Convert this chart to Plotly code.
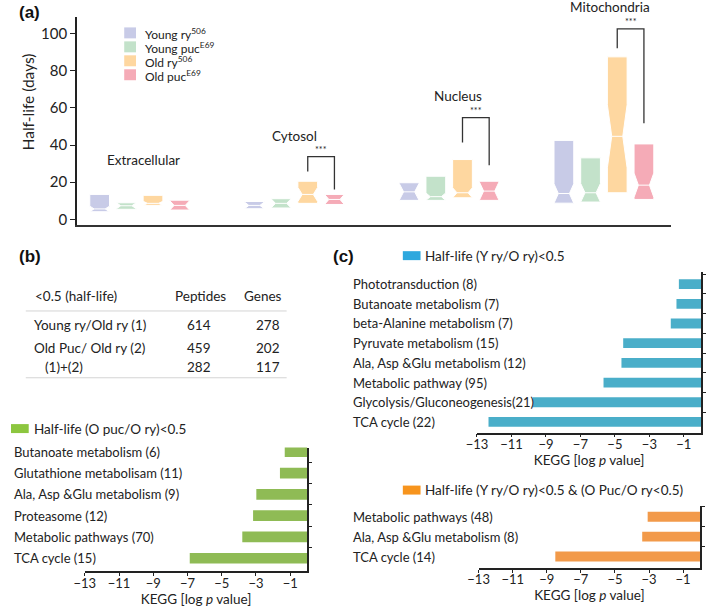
import plotly.graph_objects as go

W, H = 709, 607
FONT = "Lato"
TXT = "#222222"
AX = "#222222"

# ---------------- Panel (a) data ----------------
compartments = ["Extracellular", "Cytosol", "Nucleus", "Mitochondria"]
genotypes = ["Young ry<sup>506</sup>", "Young puc<sup>E69</sup>",
             "Old ry<sup>506</sup>", "Old puc<sup>E69</sup>"]
box_colors = ["#c8cbe7", "#c3e2ca", "#fed7a0", "#f5abb7"]

q1_young_ry = [4.1, 5.7, 10.2, 8.7]
med_young_ry = [5.6, 7.5, 14.8, 13.9]
q3_young_ry = [13.4, 9.6, 19.7, 42.5]
notch_young_ry = [1.5, 1.8, 4.5, 5.2]

q1_young_puc = [5.4, 6.1, 10.2, 9.3]
med_young_puc = [7.3, 8.6, 12.2, 14.3]
q3_young_puc = [8.9, 11.1, 23.2, 33.1]
notch_young_puc = [1.6, 2.4, 2.0, 5.0]

q1_old_ry = [7.5, 8.6, 11.6, 14.3]
med_old_ry = [8.6, 13.4, 14.3, 44.7]
q3_old_ry = [12.9, 20.5, 32.2, 87.5]
notch_old_ry = [1.1, 3.8, 2.7, 17.0]

q1_old_puc = [5.0, 8.0, 10.2, 10.7]
med_old_puc = [7.5, 10.7, 15.2, 18.4]
q3_old_puc = [10.3, 13.4, 20.5, 40.6]
notch_old_puc = [2.5, 2.7, 5.0, 6.5]

label_y = [32, 45, 66.6, 114]

# significance brackets (Old ry vs Old puc)
sig_groups = [1, 2, 3]
sig_top = [33.8, 54.8, 102.6]
sig_left_end = [25.7, 41.4, 92.2]
sig_right_end = [16.0, 29.1, 51.8]
sig_text = ["***", "***", "***"]

y_ticks_a = [0, 20, 40, 60, 80, 100]

# ---------------- Panel (b) table ----------------
table_header = ["<0.5 (half-life)", "Peptides", "Genes"]
table_rows = ["Young ry/Old ry (1)", "Old Puc/ Old ry (2)", "(1)+(2)"]
table_peptides = [614, 459, 282]
table_genes = [278, 202, 117]

# ---------------- KEGG bars ----------------
green_terms = ["Butanoate metabolism (6)", "Glutathione metabolisam (11)",
               "Ala, Asp &Glu metabolism (9)", "Proteasome (12)",
               "Metabolic pathways (70)", "TCA cycle (15)"]
green_logp = [-1.32, -1.6, -2.98, -3.17, -3.8, -6.87]

blue_terms = ["Phototransduction (8)", "Butanoate metabolism (7)",
              "beta-Alanine metabolism (7)", "Pyruvate metabolism (15)",
              "Ala, Asp &Glu metabolism (12)", "Metabolic pathway (95)",
              "Glycolysis/Gluconeogenesis(21)", "TCA cycle (22)"]
blue_logp = [-1.29, -1.43, -1.76, -4.52, -4.62, -5.66, -9.76, -12.33]

orange_terms = ["Metabolic pathways (48)", "Ala, Asp &Glu metabolism (8)",
                "TCA cycle (14)"]
orange_logp = [-3.08, -3.4, -8.5]

kegg_ticks = [-13, -11, -9, -7, -5, -3, -1]

green_title = "Half-life (O puc/O ry)<0.5"
blue_title = "Half-life (Y ry/O ry)<0.5"
orange_title = "Half-life (Y ry/O ry)<0.5 & (O Puc/O ry<0.5)"


def px(x):
    return x / W


def py(y):
    return 1 - y / H


def esc(s):
    return s.replace("&", "&amp;").replace("<", "&lt;").replace(">", "&gt;")


fig = go.Figure()

# ---- panel (a) boxes ----
GS = 5.8
series = [
    (q1_young_ry, med_young_ry, q3_young_ry, notch_young_ry),
    (q1_young_puc, med_young_puc, q3_young_puc, notch_young_puc),
    (q1_old_ry, med_old_ry, q3_old_ry, notch_old_ry),
    (q1_old_puc, med_old_puc, q3_old_puc, notch_old_puc),
]
for i, (q1, med, q3, ns) in enumerate(series):
    xs = [g * GS + i for g in range(len(compartments))]
    fig.add_trace(go.Box(
        x=xs, q1=q1, median=med, q3=q3, lowerfence=q1, upperfence=q3,
        notchspan=ns, notched=True, notchwidth=0.22, width=0.74,
        fillcolor=box_colors[i], line=dict(color="white", width=1),
        whiskerwidth=0, boxpoints=False, name=genotypes[i],
        showlegend=False, hoverinfo="skip", xaxis="x", yaxis="y"))

annotations = []
shapes = []

# compartment labels
label_dx = [4, 0, 9, 6]
for g, name in enumerate(compartments):
    if label_y[g] > 105:
        yp = py(220 - label_y[g] * 37.3 / 20)
        annotations.append(dict(x=g * GS + 1.5, y=yp, xref="x", yref="paper",
                                xanchor="center", yanchor="middle",
                                text=name, showarrow=False, xshift=label_dx[g],
                                font=dict(size=13.5, color=TXT)))
    else:
        annotations.append(dict(x=g * GS + 1.5, y=label_y[g], xref="x", yref="y",
                                xanchor="center", yanchor="middle",
                                text=name, showarrow=False, xshift=label_dx[g],
                                font=dict(size=13.5, color=TXT)))

# significance brackets
for k, g in enumerate(sig_groups):
    xl = g * GS + 2
    xr = g * GS + 3
    shapes.append(dict(type="path", xref="x", yref="y",
                       path=f"M{xl},{sig_left_end[k]} L{xl},{sig_top[k]} L{xr},{sig_top[k]} L{xr},{sig_right_end[k]}",
                       line=dict(color="#333", width=1.3)))
    annotations.append(dict(x=(xl + xr) / 2, y=sig_top[k], xref="x", yref="y",
                            xanchor="center", yanchor="middle",
                            text=sig_text[k], showarrow=False, yshift=7,
                            font=dict(size=9, color=TXT)))

# legend for panel (a)
leg_rows = [33, 47, 61, 75]
for i, gname in enumerate(genotypes):
    r = leg_rows[i]
    shapes.append(dict(type="rect", xref="paper", yref="paper",
                       x0=px(115), x1=px(127), y0=py(r + 5.5), y1=py(r - 5.5),
                       fillcolor=box_colors[i], line=dict(width=0)))
    annotations.append(dict(x=px(134), y=py(r + 1), xref="paper", yref="paper",
                            xanchor="left", yanchor="middle", text=gname,
                            showarrow=False, font=dict(size=12, color=TXT)))

# y title panel (a)
annotations.append(dict(x=px(17), y=py(102), xref="paper", yref="paper",
                        xanchor="center", yanchor="middle",
                        text="Half-life (days)", textangle=-90, showarrow=False,
                        font=dict(size=15.5, color=TXT)))

# panel letters
for letter, lx, ly in [("(a)", 6, 13), ("(b)", 6, 257), ("(c)", 325, 257)]:
    annotations.append(dict(x=px(lx), y=py(ly), xref="paper", yref="paper",
                            xanchor="left", yanchor="middle",
                            text=f"<b>{letter}</b>", showarrow=False,
                            font=dict(size=17, color="#111", family="Liberation Sans")))

# ---- panel (b) table ----
TF = 13.5
hdr_y = 297
annotations.append(dict(x=px(22), y=py(hdr_y), xref="paper", yref="paper",
                        xanchor="left", yanchor="middle",
                        text=esc(table_header[0]), showarrow=False, font=dict(size=TF, color=TXT)))
annotations.append(dict(x=px(192), y=py(hdr_y), xref="paper", yref="paper",
                        xanchor="center", yanchor="middle",
                        text=table_header[1], showarrow=False, font=dict(size=TF, color=TXT)))
annotations.append(dict(x=px(277), y=py(hdr_y), xref="paper", yref="paper",
                        xanchor="right", yanchor="middle",
                        text=table_header[2], showarrow=False, font=dict(size=TF, color=TXT)))
row_y = [326, 349, 368]
row_x = [21, 21, 33]
for k in range(len(table_rows)):
    annotations.append(dict(x=px(row_x[k]), y=py(row_y[k]), xref="paper", yref="paper",
                            xanchor="left", yanchor="middle", text=table_rows[k], showarrow=False,
                            font=dict(size=TF, color=TXT)))
    annotations.append(dict(x=px(191), y=py(row_y[k]), xref="paper", yref="paper",
                            xanchor="center", yanchor="middle", text=str(table_peptides[k]),
                            showarrow=False, font=dict(size=TF, color=TXT)))
    annotations.append(dict(x=px(275), y=py(row_y[k]), xref="paper", yref="paper",
                            xanchor="right", yanchor="middle", text=str(table_genes[k]),
                            showarrow=False, font=dict(size=TF, color=TXT)))
for ly in [312, 379]:
    shapes.append(dict(type="line", xref="paper", yref="paper",
                       x0=px(15), x1=px(280), y0=py(ly), y1=py(ly),
                       line=dict(color="#d4d4d4", width=1)))

# ---- KEGG bar charts ----
bar_specs = [
    (green_terms, green_logp, "#8fbb55", "#8cc63f", "x2", "y2", 1, green_title, 430, 0, (75, 301, 449, 573.3), (0.2, 0.62)),
    (blue_terms, blue_logp, "#4aaec9", "#2ea8de", "x3", "y3", 345, blue_title, 256.5, 398, (473.3, 701, 273, 434), (0.61, 0.54)),
    (orange_terms, orange_logp, "#f29a4a", "#f7941d", "x4", "y4", 345, orange_title, 491.7, 398, (475, 700, 508, 570), (0.52, 0.58)),
]

layout_axes = {}
for (terms, vals, bcol, scol, xa, ya, lab_x, ttl, ttl_y, sw_x, dom, pad) in bar_specs:
    fig.add_trace(go.Bar(y=terms, x=vals, orientation="h", marker=dict(color=bcol, line=dict(width=0)),
                         width=0.5, xaxis=xa, yaxis=ya, showlegend=False, hoverinfo="skip"))
    x0, x1, y0, y1 = dom
    xkey = "xaxis" + xa[1:]
    ykey = "yaxis" + ya[1:]
    layout_axes[xkey] = dict(domain=[px(x0), px(x1)], anchor=ya, range=[-13, 0],
                             tickvals=kegg_ticks, ticks="outside", ticklen=3, tickwidth=1.2,
                             tickcolor=AX, showline=True, linecolor=AX, linewidth=1.5,
                             showgrid=False, zeroline=False, ticklabelstandoff=-4,
                             tickfont=dict(size=13, color=TXT),
                             title=dict(text="KEGG [log <i>p</i> value]", standoff=2,
                                        font=dict(size=13.5, color=TXT)))
    layout_axes[ykey] = dict(domain=[py(y1), py(y0)], anchor=xa, side="right", type="category",
                             range=[len(terms) - 1 + pad[1], -pad[0]],
                             showticklabels=False, ticks="outside", tickson="boundaries",
                             ticklen=3, tickcolor=AX, showline=True, linecolor=AX,
                             linewidth=1.5, showgrid=False, zeroline=False)
    for t in terms:
        annotations.append(dict(x=px(lab_x), y=t, xref="paper", yref=ya, xanchor="left",
                                yanchor="middle", text=esc(t), showarrow=False,
                                font=dict(size=13, color=TXT)))
    shapes.append(dict(type="rect", xref="paper", yref="paper",
                       x0=px(sw_x), x1=px(sw_x + 18), y0=py(ttl_y + 4.5), y1=py(ttl_y - 4.5),
                       fillcolor=scol, line=dict(width=0)))
    annotations.append(dict(x=px(sw_x + 21), y=py(ttl_y), xref="paper", yref="paper",
                            xanchor="left", yanchor="middle", text=esc(ttl), showarrow=False,
                            font=dict(size=13.5, color=TXT)))

fig.update_layout(
    width=W, height=H, margin=dict(l=0, r=0, t=0, b=0),
    paper_bgcolor="white", plot_bgcolor="white",
    font=dict(family=FONT, color=TXT),
    showlegend=False,
    xaxis=dict(domain=[px(67), px(670)], anchor="y", range=[-0.85, 21.4],
               showline=True, linecolor="#333", linewidth=2, showticklabels=False,
               ticks="", showgrid=False, zeroline=False),
    yaxis=dict(domain=[py(226), py(17)], anchor="x", range=[-3.2, 109],
               tickvals=y_ticks_a, ticks="outside", ticklen=5, tickwidth=1.3, tickcolor=AX,
               showline=True, linecolor=AX, linewidth=1.5, showgrid=False, zeroline=False,
               tickfont=dict(size=15, color=TXT)),
    annotations=annotations,
    shapes=shapes,
    **layout_axes,
)

fig.write_html("out.html", config={"displayModeBar": False},
               post_script="document.body.style.margin='0px';")
